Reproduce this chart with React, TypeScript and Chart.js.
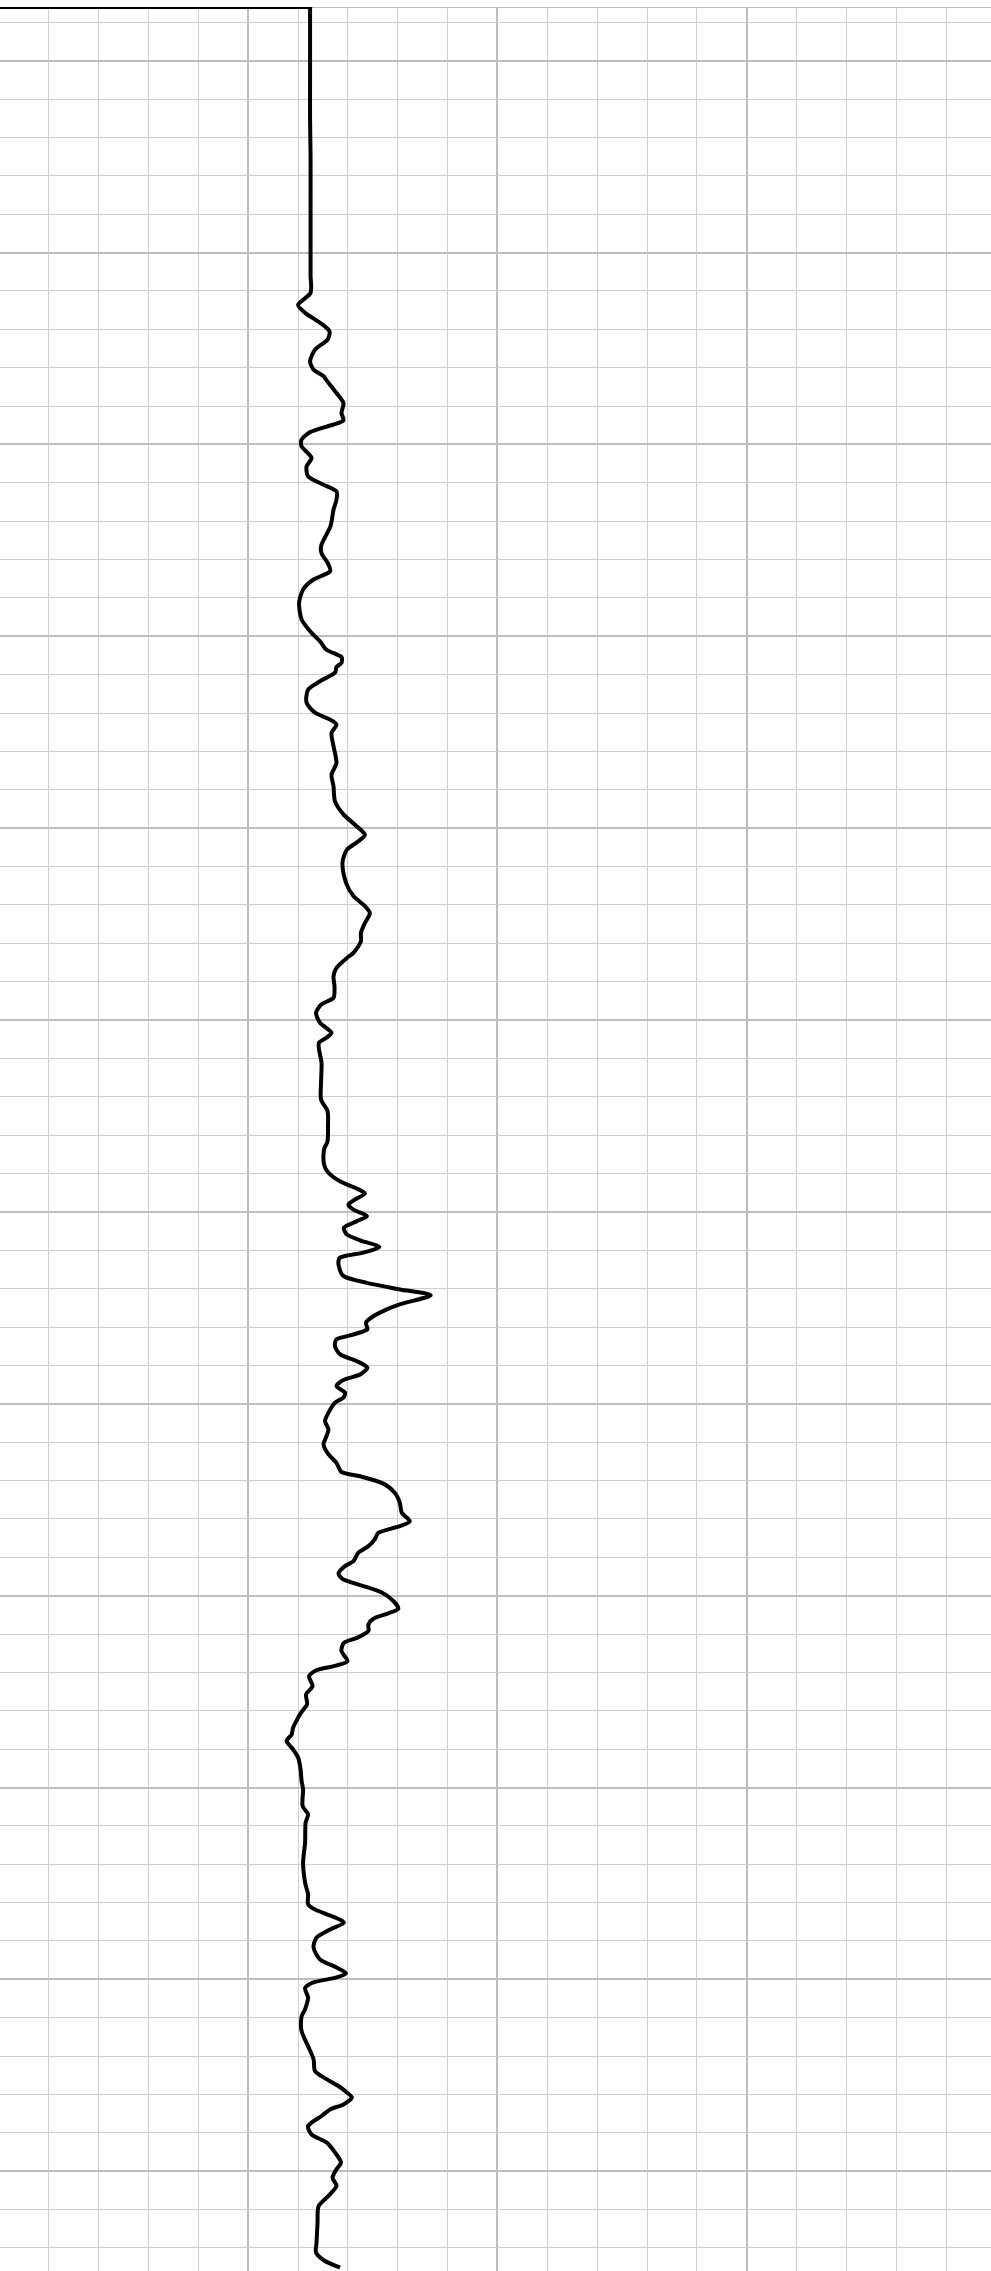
import React, { useEffect, useRef } from "react";
import { Chart, registerables } from "chart.js";

Chart.register(...registerables);

// Depth (ft) of each sample, top to bottom
const DEPTH: number[] = [
  4986.0, 4986.0, 4986.5, 4995.0, 5005.0, 5015.0, 5025.0, 5033.6, 5042.0, 5050.0,
  5056.0, 5060.5, 5063.6, 5065.7, 5068.3, 5070.5, 5072.7, 5075.3,
  5078.3, 5080.5, 5082.2, 5083.1, 5086.6, 5089.2, 5091.8, 5093.7, 5094.8, 5096.8,
  5098.7, 5100.5, 5103.5, 5105.7, 5108.3, 5110.5, 5112.2, 5114.4, 5117.0, 5121.3,
  5126.1, 5128.3, 5131.3, 5133.1, 5135.2, 5137.8, 5141.3, 5145.6, 5149.1, 5151.3,
  5153.5, 5155.4, 5156.9, 5158.0, 5159.5, 5161.7, 5163.9, 5167.3, 5169.9, 5171.7,
  5173.0, 5175.2, 5178.6, 5183.0, 5186.0, 5189.1, 5193.0, 5196.4, 5199.1, 5201.7,
  5203.4, 5205.6, 5209.0, 5214.2, 5217.7, 5220.3, 5222.2, 5224.7, 5227.3, 5229.5,
  5232.5, 5233.8, 5236.4, 5238.6, 5241.2, 5244.2, 5245.9, 5248.1, 5250.7, 5253.3,
  5254.6, 5255.9, 5257.7, 5261.1, 5266.4, 5270.7, 5273.7, 5277.7, 5281.6, 5283.7,
  5287.6, 5289.8, 5292.0, 5293.7, 5295.2, 5296.8, 5298.1, 5299.4, 5301.1, 5302.4,
  5304.1, 5305.9, 5307.4, 5309.1, 5310.6, 5311.9, 5313.7, 5316.7, 5318.5, 5320.2,
  5321.7, 5324.1, 5325.4, 5327.2, 5328.9, 5330.6, 5332.2, 5333.2, 5335.0, 5337.1,
  5338.9, 5340.6, 5342.4, 5343.8, 5345.4, 5347.1, 5348.4, 5349.7, 5352.3, 5354.5,
  5356.7, 5358.4, 5360.6, 5363.2, 5365.4, 5367.8, 5368.9, 5370.8, 5373.2, 5375.8,
  5378.4, 5380.6, 5381.9, 5383.6, 5385.3, 5387.1, 5388.8, 5391.0, 5392.3, 5394.2,
  5395.8, 5397.5, 5399.2, 5401.4, 5403.4, 5404.6, 5406.0, 5407.5, 5409.2, 5411.0,
  5412.3, 5414.4, 5417.1, 5418.3, 5419.4, 5421.0, 5423.6, 5425.7, 5428.3, 5430.3,
  5431.8, 5434.4, 5436.2, 5437.9, 5440.1, 5442.2, 5445.3, 5448.3, 5450.5, 5454.8,
  5457.0, 5459.2, 5464.4, 5469.6, 5474.8, 5477.8, 5480.4, 5481.8, 5483.5, 5485.2,
  5487.0, 5489.1, 5491.7, 5494.8, 5496.9, 5498.4, 5499.5, 5500.8, 5502.2, 5504.8,
  5507.8, 5509.6, 5513.5, 5517.4, 5520.8, 5523.9, 5526.0, 5527.8, 5529.5, 5530.8,
  5532.6, 5533.9, 5535.6, 5538.2, 5540.4, 5542.5, 5545.1, 5547.7, 5549.5, 5551.7,
  5553.8, 5556.4, 5559.1, 5563.4, 5568.6, 5571.2, 5573.4, 5575.1,
];

// Log reading at each depth
const READING: number[] = [
  0.0, 62.4, 62.4, 62.4, 62.4, 62.4, 62.5, 62.5, 62.5, 62.5,
  62.5, 62.5, 60.0, 61.4, 64.4, 66.3, 65.9, 63.4,
  62.4, 63.1, 65.1, 65.6, 67.7, 69.1, 68.7, 69.1, 67.1, 62.4,
  60.7, 60.7, 62.7, 61.7, 62.0, 65.1, 67.7, 67.7, 67.1, 66.5,
  64.7, 64.7, 66.1, 66.4, 63.1, 61.0, 60.2, 60.7, 62.7, 64.4,
  65.7, 68.7, 68.7, 67.7, 67.4, 64.4, 62.0, 61.7, 63.4, 66.4,
  67.7, 66.7, 67.1, 67.7, 66.7, 67.1, 67.4, 69.1, 71.4, 73.4,
  72.1, 69.8, 68.9, 69.6, 71.1, 73.4, 74.4, 73.4, 72.6, 72.6,
  71.1, 69.8, 67.7, 67.1, 67.3, 67.1, 64.7, 63.6, 64.4, 66.7,
  65.7, 64.2, 64.2, 64.7, 64.6, 64.6, 65.9, 66.0, 65.9, 65.2,
  65.2, 66.1, 68.4, 71.4, 73.4, 71.4, 70.1, 71.1, 73.8, 71.8,
  69.2, 69.8, 72.4, 76.3, 73.1, 68.4, 68.1, 69.1, 73.8, 80.4,
  86.6, 80.4, 77.8, 75.1, 73.6, 73.9, 70.4, 67.7, 67.4, 68.4,
  71.8, 73.9, 72.4, 69.1, 67.7, 69.4, 69.1, 67.4, 66.1, 65.4,
  66.1, 65.7, 65.1, 66.1, 67.7, 68.7, 72.4, 77.1, 79.4, 80.4,
  80.8, 82.4, 80.4, 76.1, 75.4, 74.1, 72.1, 71.1, 69.4, 68.1,
  69.1, 73.1, 76.8, 79.1, 80.1, 78.1, 75.1, 74.1, 74.1, 71.8,
  69.2, 68.7, 69.9, 67.4, 63.7, 62.2, 62.9, 61.6, 61.8, 60.7,
  60.0, 59.0, 58.7, 57.7, 59.0, 60.0, 60.5, 60.7, 61.0, 60.9,
  62.0, 61.5, 61.4, 61.0, 61.4, 62.0, 62.0, 63.4, 66.7, 69.2,
  66.4, 63.7, 63.1, 64.4, 67.7, 69.6, 67.7, 63.1, 61.4, 62.0,
  61.4, 60.7, 60.7, 62.0, 63.1, 63.4, 65.7, 68.1, 69.8, 70.8,
  69.1, 66.4, 64.7, 62.0, 62.7, 65.7, 67.4, 68.6, 67.7, 66.9,
  67.7, 66.1, 64.1, 63.9, 63.7, 63.6, 65.4, 68.4,
];

const DEPTH_MIN = 4986;
const DEPTH_MAX = 5576;
const READING_MIN = 0;
const READING_MAX = 199;

const DEPTH_TICKS: number[] = [4986];
for (let d = 4990; d <= 5570; d += 10) DEPTH_TICKS.push(d);
const READING_TICKS: number[] = [];
for (let r = 0; r <= 190; r += 10) READING_TICKS.push(r);

export default function App() {
  const ref = useRef<HTMLCanvasElement | null>(null);

  useEffect(() => {
    if (!ref.current) return;
    const points = DEPTH.map((d, i) => ({ x: READING[i], y: d }));
    const majorY = (v: number) => v === DEPTH_MIN || v % 50 === 0;
    const majorX = (v: number) => v % 50 === 0;
    const chart = new Chart(ref.current, {
      type: "scatter",
      data: {
        datasets: [
          {
            data: points,
            showLine: true,
            borderColor: "#000000",
            borderWidth: 4,
            pointRadius: 0,
            tension: 0.25,
            fill: false,
            clip: false,
          },
        ],
      },
      options: {
        responsive: false,
        animation: false,
        layout: { padding: 0 },
        plugins: { legend: { display: false }, tooltip: { enabled: false } },
        scales: {
          x: {
            type: "linear",
            min: READING_MIN,
            max: READING_MAX,
            afterBuildTicks: (s: any) => {
              s.ticks = READING_TICKS.map((v) => ({ value: v }));
            },
            ticks: { display: false },
            border: { display: false },
            grid: {
              drawTicks: false,
              color: (c: any) => (majorX(c.tick.value) ? "#bdbdbd" : "#cfcfcf"),
              lineWidth: (c: any) => (majorX(c.tick.value) ? 2 : 1),
            },
          },
          y: {
            type: "linear",
            reverse: true,
            min: DEPTH_MIN,
            max: DEPTH_MAX,
            afterBuildTicks: (s: any) => {
              s.ticks = DEPTH_TICKS.map((v) => ({ value: v }));
            },
            ticks: { display: false },
            border: { display: false },
            grid: {
              drawTicks: false,
              color: (c: any) => (majorY(c.tick.value) ? "#bdbdbd" : "#cfcfcf"),
              lineWidth: (c: any) => (majorY(c.tick.value) ? 2 : 1),
            },
          },
        },
      },
    });
    return () => chart.destroy();
  }, []);

  return (
    <div style={{ position: "absolute", left: -1, top: 7, width: 992, height: 2264 }}>
      <canvas ref={ref} width={992} height={2264} style={{ width: 992, height: 2264, display: "block" }} />
    </div>
  );
}
